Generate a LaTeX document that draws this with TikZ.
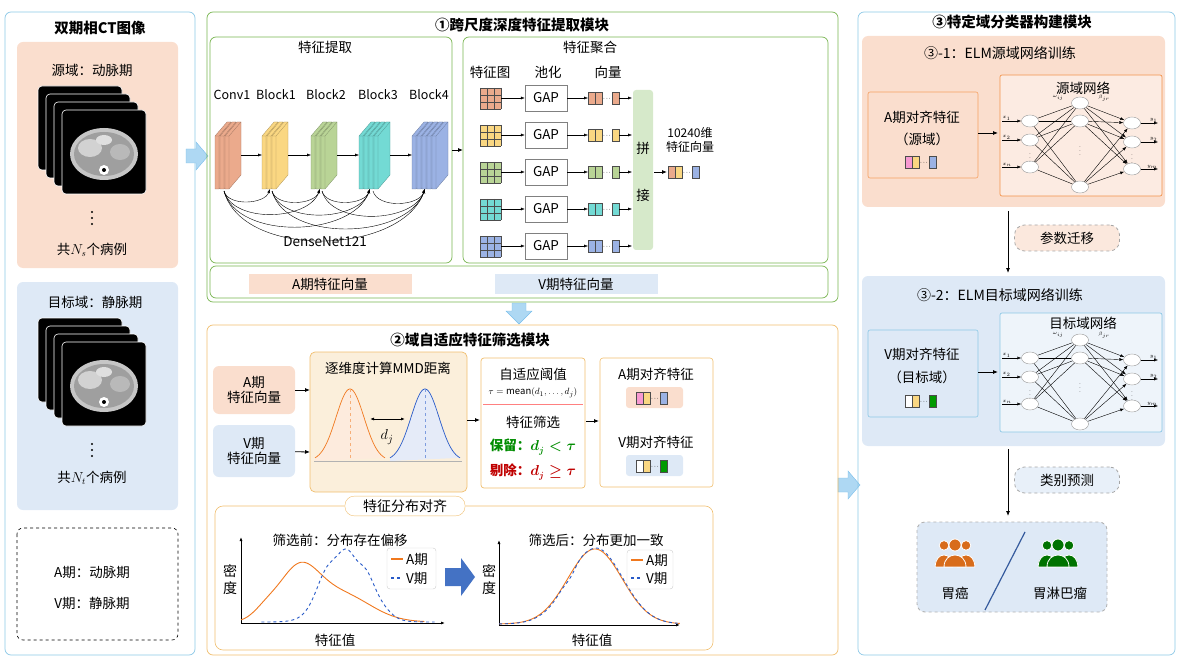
\documentclass[tikz,border=0pt]{standalone}
\usepackage{fontspec}
\setmainfont{Noto Sans CJK SC}
\usetikzlibrary{arrows.meta,calc}
\definecolor{pinkbg}{RGB}{250,222,206}
\definecolor{bluebg}{RGB}{222,233,246}
\definecolor{greenln}{RGB}{120,180,80}
\definecolor{orangeln}{RGB}{240,190,110}
\definecolor{blueln}{RGB}{140,200,230}
\definecolor{cA}{RGB}{235,170,140}
\definecolor{cB}{RGB}{250,215,130}
\definecolor{cC}{RGB}{185,212,150}
\definecolor{cD}{RGB}{115,218,212}
\definecolor{cE}{RGB}{155,178,228}
\definecolor{plotA}{RGB}{240,120,30}
\definecolor{plotV}{RGB}{40,90,200}
\definecolor{bigblue}{RGB}{68,114,196}
\definecolor{chev}{RGB}{120,190,235}
\tikzset{
  panel/.style={draw=#1, rounded corners=6pt, line width=0.7pt},
  ttl/.style={font=\fontsize{14.5}{16}\selectfont\bfseries},
  arr/.style={-{Latex[length=5pt,width=4pt]}, line width=0.8pt},
  thinarr/.style={-{Latex[length=4pt,width=3pt]}, line width=0.4pt},
  gapbox/.style={draw=gray, minimum width=42pt, minimum height=26pt, inner sep=0pt},
  pill/.style={draw=gray!70, dashed, rounded corners=10pt, minimum width=105pt, minimum height=26pt, line width=0.8pt},
  neuron/.style={draw=gray!80, fill=white, ellipse, minimum width=17pt, minimum height=12pt, inner sep=0pt},
  dots/.style={font=\scriptsize, inner sep=0pt}
}
\usetikzlibrary{shapes.geometric}
% slab stack of a dense block
\newcommand\slabs[3]{%
  \foreach \i in {1,...,#2}{%
    \pgfmathsetmacro\sx{#1+(\i-1)*5}
    \filldraw[fill=#3, draw=#3!70!black, line width=0.3pt]
      (\sx,136) -- (\sx+12,122) -- (\sx+16,122) -- (\sx+16,175) -- (\sx+4,189) -- (\sx,189) -- cycle;
    \draw[#3!70!black, line width=0.3pt] (\sx+4,136) -- (\sx+16,122) (\sx+4,136) -- (\sx+4,189) (\sx,136) -- (\sx+4,136);
  }}
% 3x3 feature map
\newcommand\fmap[3]{%
  \fill[#3] (#1,#2) rectangle ++(21,21);
  \foreach \k in {0,7,14,21}{\draw[black!70, line width=0.5pt] (#1+\k,#2) -- ++(0,21) (#1,#2+\k) -- ++(21,0);}}
% short vector: x, y, first colour, last colour, middle colour
\newcommand\vect[5]{%
  \filldraw[fill=#3, draw=black!70, line width=0.4pt] (#1,#2-6) rectangle ++(7,12);
  \filldraw[fill=#5, draw=black!70, line width=0.4pt] (#1+7,#2-6) rectangle ++(7,12);
  \node[dots] at (#1+19,#2+1) {$\cdot\!\cdot\!\cdot$};
  \filldraw[fill=#4, draw=black!70, line width=0.4pt] (#1+24,#2-6) rectangle ++(7,12);}
% vertical ellipsis drawn as dots
\newcommand\vdotz[2]{\foreach \d in {-6,0,6}{\fill (#1,#2+\d) circle (1.1);}}
% CT slice stack
\newcommand\ctstack[2]{%
  \foreach \i in {0,1,2,3}{%
    \begin{scope}[shift={(#1+\i*8,#2+\i*8)}]
      \fill[black, rounded corners=4pt] (0,0) rectangle (84,84);
      \draw[white, line width=0.6pt, rounded corners=4pt] (0,0) rectangle (84,84);
      \fill[gray!45] (42,44) ellipse (34 and 26);
      \fill[gray!75] (42,44) ellipse (30 and 22);
      \fill[gray!35] (28,38) ellipse (12 and 9);
      \fill[gray!55] (58,42) ellipse (10 and 8);
      \fill[gray!25] (42,30) ellipse (8 and 5);
      \fill[white] (42,60) circle (5);
      \fill[black] (42,60) circle (2);
    \end{scope}}}
% group of people
\newcommand\people[3]{%
  \foreach \dx/\s in {-11/0.8,11/0.8,0/1}{%
    \fill[#3, draw=white, line width=0.8pt] (#1+\dx-11*\s,#2+22) .. controls (#1+\dx-11*\s,#2+6) and (#1+\dx+11*\s,#2+6) .. (#1+\dx+11*\s,#2+22) -- cycle;
    \fill[#3, draw=white, line width=0.8pt] (#1+\dx,#2+2-2*\s) circle (6*\s);}}
% ELM network
\newcommand\elm[2]{%
  \begin{scope}[yshift=#2]
    \foreach \n/\yy in {1/121,2/140,3/167}{\node[neuron] (#1in\n) at (1030,\yy) {};
      \node[neuron] (#1out\n) at (1132,\yy+2) {};}
    \foreach \n/\yy in {1/103,2/121,3/187}{\node[neuron] (#1hid\n) at (1080,\yy) {};}
    \foreach \a in {1,2,3}{\foreach \b in {1,2,3}{%
      \draw[line width=0.4pt] (#1in\a) -- (#1hid\b);
      \draw[thinarr] (#1hid\b) -- (#1out\a);}}
    \foreach \n/\lab in {1/x_1,2/x_2,3/x_n}{%
      \coordinate (#1xs\n) at ($(#1in\n)+(-28,0)$);
      \draw[thinarr] (#1xs\n) -- (#1in\n);
      \node[font=\tiny, anchor=south west, inner sep=0.5pt] at (#1xs\n) {$\lab$};}
    \foreach \n/\lab in {1/y_1,2/y_2,3/y_m}{%
      \coordinate (#1ys\n) at ($(#1out\n)+(26,0)$);
      \draw[thinarr] (#1out\n) -- (#1ys\n);
      \node[font=\tiny, anchor=south east, inner sep=0.5pt] at (#1ys\n) {$\lab$};}
    \node[font=\tiny] at (1030,155) {$\vdots$};
    \node[font=\tiny] at (1132,156) {$\vdots$};
    \node[font=\tiny] at (1080,148) {$\vdots$};
    \node[font=\tiny] at (1058,98) {$\omega_{ij}$};
    \node[font=\tiny] at (1104,98) {$\beta_{jr}$};
  \end{scope}}
\begin{document}
\begin{tikzpicture}[x=1pt, y=-1pt, font=\fontsize{13.5}{15}\selectfont]
\useasboundingbox (0,0) rectangle (1185,668);

% ---------- left column
\draw[panel=blueln] (5,12) rectangle (195,655);
\node[ttl] (ctttl) at (100,28) {双期相CT图像};
\fill[pinkbg, rounded corners=6pt] (17,42) rectangle (178,268);
\node (srcdom) at (92,70) {源域：动脉期};
\ctstack{38}{86}
\vdotz{92}{218}
\node (srcnum) at (92,250) {共$N_s$个病例};
\fill[bluebg, rounded corners=6pt] (17,282) rectangle (178,510);
\node (tgtdom) at (95,302) {目标域：静脉期};
\ctstack{38}{318}
\vdotz{92}{450}
\node (tgtnum) at (92,478) {共$N_t$个病例};
\draw[dashed, rounded corners=6pt, line width=0.6pt] (17,528) rectangle (178,640);
\node (legA) at (92,572) {A期：动脉期};
\node (legV) at (92,603) {V期：静脉期};

% chevron arrows
\filldraw[fill=chev!60, draw=chev] (186,149) -- (196,149) -- (196,142) -- (208,156) -- (196,170) -- (196,163) -- (186,163) -- cycle;
\filldraw[fill=chev!60, draw=chev] (838,478) -- (848,478) -- (848,471) -- (860,485) -- (848,499) -- (848,492) -- (838,492) -- cycle;
\filldraw[fill=chev!60, draw=chev] (512,303) -- (512,311) -- (506,311) -- (519,324) -- (532,311) -- (526,311) -- (526,303) -- cycle;

% ---------- module 1
\draw[panel=greenln] (207,12) rectangle (838,302);
\node[ttl] (m1ttl) at (522,25) {①跨尺度深度特征提取模块};
\draw[panel=greenln] (210,37) rectangle (452,263);
\node (fext) at (325,47) {特征提取};
\foreach \nm/\xx in {Conv1/232,Block1/276,Block2/326,Block3/378,Block4/429}{\node[inner sep=1pt, font=\fontsize{12.5}{14}\selectfont] (lb\nm) at (\xx,95) {\nm};}
\slabs{215}{3}{cA}
\slabs{262}{3}{cB}
\slabs{311}{3}{cC}
\slabs{359}{4}{cD}
\slabs{412}{5}{cE}
\foreach \a/\b in {241/262,288/311,337/359,390/412}{\coordinate (s\a) at (\a,155); \coordinate (t\b) at (\b,155); \draw[thinarr] (s\a) -- (t\b);}
\foreach \a/\b/\l in {224/270/0.9,224/320/0.9,224/370/0.9,224/425/0.9,272/320/0.9,272/370/0.9,272/425/0.9,322/370/0.9,322/425/0.9,373/425/0.9}{%
  \coordinate (ka\a\b) at (\a,191); \coordinate (kb\a\b) at (\b,189);
  \draw[thinarr] (ka\a\b) to[out=-75, in=-110, looseness=\l] (kb\a\b);}
\node (dnet) at (325,242) {DenseNet121};
\coordinate (extout) at (452,150); \coordinate (aggin) at (463,150);
\draw[arr] (extout) -- (aggin);

\draw[panel=greenln] (463,37) rectangle (828,263);
\node (fagg) at (590,47) {特征聚合};
\node (hmap) at (490,72) {特征图};
\node (hpool) at (548,72) {池化};
\node (hvec) at (608,72) {向量};
\fill[greenln!30, rounded corners=3pt] (633,90) rectangle (653,250);
\node (cat1) at (643,148) {拼};
\node (cat2) at (643,195) {接};
\foreach \r/\yy/\c in {1/98/cA,2/135/cB,3/172/cC,4/209/cD,5/246/cE}{%
  \fmap{480}{\yy-10}{\c}
  \node[gapbox] (gap\r) at (546,\yy) {GAP};
  \coordinate (mp\r) at (501,\yy);
  \draw[thinarr] (mp\r) -- (gap\r);
  \coordinate (vc\r) at (588,\yy);
  \draw[thinarr] (gap\r) -- (vc\r);
  \vect{588}{\yy}{\c}{\c}{\c}
  \coordinate (ve\r) at (619,\yy); \coordinate (vt\r) at (632,\yy);
  \draw[thinarr] (ve\r) -- (vt\r);}
\node[align=center, font=\fontsize{12}{14}\selectfont] (dim) at (690,140) {10240维\\特征向量};
\coordinate (catout) at (654,172); \coordinate (fvin) at (667,172);
\draw[arr] (catout) -- (fvin);
\vect{668}{172}{cA}{cE}{cB}
\draw[panel=greenln] (210,266) rectangle (828,298);
\node[fill=pinkbg, minimum width=163pt, minimum height=20pt] (avec) at (330,284) {A期特征向量};
\node[fill=bluebg, minimum width=163pt, minimum height=20pt] (vvec) at (576,284) {V期特征向量};

% ---------- module 2
\draw[panel=orangeln] (207,325) rectangle (838,655);
\node[ttl] (m2ttl) at (470,340) {②域自适应特征筛选模块};
\node[fill=pinkbg, rounded corners=6pt, minimum width=82pt, minimum height=48pt, align=center] (ain) at (254,390) {A期\\特征向量};
\node[fill=bluebg, rounded corners=6pt, minimum width=82pt, minimum height=52pt, align=center] (vin) at (254,451) {V期\\特征向量};
\filldraw[fill=orangeln!25, draw=orangeln, rounded corners=5pt, line width=0.7pt] (310,352) rectangle (467,492);
\node (mmdttl) at (388,368) {逐维度计算MMD距离};
\coordinate (mmdA) at (310,390); \coordinate (mmdV) at (310,452);
\draw[arr] (ain) -- (mmdA);
\draw[arr] (vin) -- (mmdV);
\fill[plotA!15] (315,461) -- plot[domain=315:385, samples=50] (\x, {461-72*exp(-((\x-350)^2)/(2*14^2))}) -- cycle;
\fill[plotV!12] (390,461) -- plot[domain=390:460, samples=50] (\x, {461-72*exp(-((\x-425)^2)/(2*14^2))}) -- cycle;
\draw[plotA, line width=0.7pt] plot[domain=315:385, samples=50] (\x, {461-72*exp(-((\x-350)^2)/(2*14^2))});
\draw[plotV, line width=0.7pt] plot[domain=390:460, samples=50] (\x, {461-72*exp(-((\x-425)^2)/(2*14^2))});
\draw[plotA!60, dashed, line width=0.4pt] (350,389) -- (350,461);
\draw[plotV!60, dashed, line width=0.4pt] (425,389) -- (425,461);
\draw[gray!60] (314,461) -- (462,461);
\coordinate (djl) at (370,419); \coordinate (djr) at (405,419);
\draw[{Latex[length=4pt]}-{Latex[length=4pt]}, line width=0.8pt] (djl) -- (djr);
\node[font=\fontsize{15}{16}\selectfont] (dj) at (387,437) {$d_j$};
\draw[orangeln, line width=0.7pt, rounded corners=3pt] (481,358) rectangle (585,488);
\node (thr) at (533,374) {自适应阈值};
\node[font=\fontsize{9.5}{11}\selectfont] (tau) at (533,393) {$\tau=\mathrm{mean}(d_1,\ldots,d_j)$};
\draw[red!50, line width=0.8pt] (483,404) -- (583,404);
\node (fsel) at (533,422) {特征筛选};
\node[text=green!55!black, font=\fontsize{13.5}{15}\selectfont\bfseries\boldmath] (keep) at (533,447) {保留：$d_j<\tau$};
\node[text=red!75!black, font=\fontsize{13.5}{15}\selectfont\bfseries\boldmath] (drop) at (533,472) {剔除：$d_j\geq\tau$};
\coordinate (mmdout) at (467,420); \coordinate (thrin) at (480,420);
\draw[arr] (mmdout) -- (thrin);
\coordinate (throut) at (586,421); \coordinate (alin) at (599,421);
\draw[arr] (throut) -- (alin);
\draw[orangeln, line width=0.6pt, rounded corners=3pt] (600,358) rectangle (713,487);
\node (aal) at (656,374) {A期对齐特征};
\fill[pinkbg, rounded corners=3pt] (626,387) rectangle (683,408);
\vect{636}{398}{magenta!40}{cE}{cB}
\node (val) at (656,442) {V期对齐特征};
\fill[bluebg, rounded corners=3pt] (626,455) rectangle (683,476);
\vect{636}{466}{white}{green!60!black}{cB}

\draw[orangeln, line width=0.6pt, rounded corners=8pt] (215,506) rectangle (713,650);
\node[draw=orangeln, fill=white, rounded corners=9pt, minimum width=120pt, minimum height=18pt, font=\fontsize{14}{15}\selectfont] (align) at (405,506) {特征分布对齐};
% before
\coordinate (o1) at (241,623); \coordinate (x1) at (445,623); \coordinate (y1) at (241,537);
\draw[thinarr, line width=0.8pt] (o1) -- (x1);
\draw[thinarr, line width=0.8pt] (o1) -- (y1);
\node (bef) at (340,540) {筛选前：分布存在偏移};
\node[align=center, font=\fontsize{14}{17}\selectfont] (dens1) at (230,580) {密\\度};
\node (fv1) at (335,640) {特征值};
\draw[plotA, line width=0.9pt] plot[domain=0:0.9, samples=120] ({241+204*\x}, {622-48*exp(-((\x-0.28)^2)/(2*0.098^2))-28*exp(-((\x-0.485)^2)/(2*0.147^2))-9*exp(-((\x-0.118)^2)/(2*0.059^2))});
\draw[plotV, dashed, line width=0.9pt] plot[domain=0.1:0.95, samples=160] ({241+204*\x}, {622-68*exp(-((\x-0.52)^2)/(2*0.1^2))-14*exp(-((\x-0.41)^2)/(2*0.05^2))-8*exp(-((\x-0.64)^2)/(2*0.06^2))-3*sin(\x*3000)*exp(-((\x-0.55)^2)/(2*0.08^2))});
\draw[gray!40, rounded corners=3pt] (387,548) rectangle (436,589);
\draw[plotA, line width=1.2pt] (391,559) -- (403,559); \node[anchor=west, inner sep=1pt] (lA1) at (405,559) {A期};
\draw[plotV, dashed, line width=1.2pt] (391,578) -- (403,578); \node[anchor=west, inner sep=1pt] (lV1) at (405,578) {V期};
\fill[bigblue] (445,568) -- (461,568) -- (461,558) -- (475,577) -- (461,596) -- (461,586) -- (445,586) -- cycle;
% after
\coordinate (o2) at (499,625); \coordinate (x2) at (680,625); \coordinate (y2) at (499,540);
\draw[thinarr, line width=0.8pt] (o2) -- (x2);
\draw[thinarr, line width=0.8pt] (o2) -- (y2);
\node (aft) at (596,540) {筛选后：分布更加一致};
\node[align=center, font=\fontsize{14}{17}\selectfont] (dens2) at (489,580) {密\\度};
\node (fv2) at (592,640) {特征值};
\draw[plotA, line width=0.9pt] plot[domain=0:1, samples=100] ({499+181*\x}, {624-75*exp(-((\x-0.53)^2)/(2*0.15^2))});
\draw[plotV, dashed, line width=0.9pt] plot[domain=0:1, samples=140] ({499+181*\x}, {624-76*exp(-((\x-0.535)^2)/(2*0.148^2))-2*sin(\x*2500)*exp(-((\x-0.4)^2)/(2*0.05^2))});
\draw[gray!40, rounded corners=3pt] (627,550) rectangle (673,589);
\draw[plotA, line width=1.2pt] (631,560) -- (643,560); \node[anchor=west, inner sep=1pt] (lA2) at (645,560) {A期};
\draw[plotV, dashed, line width=1.2pt] (631,578) -- (643,578); \node[anchor=west, inner sep=1pt] (lV2) at (645,578) {V期};

% ---------- module 3
\draw[panel=blueln] (858,12) rectangle (1175,655);
\node[ttl] (m3ttl) at (1012,22) {③特定域分类器构建模块};
\fill[pinkbg, rounded corners=6pt] (862,36) rectangle (1165,207);
\node[font=\fontsize{14}{16}\selectfont] (s31) at (1000,53) {③-1：ELM源域网络训练};
\draw[plotA!70, line width=0.6pt, rounded corners=2pt] (868,92) rectangle (978,178);
\node (asrc1) at (922,117) {A期对齐特征};
\node (asrc2) at (922,139) {（源域）};
\vect{905}{162}{magenta!40}{cE}{cB}
\filldraw[fill=pinkbg!60, draw=plotA!80, line width=0.7pt, rounded corners=2pt] (1000,75) rectangle (1162,196);
\node (srcnet) at (1083,88) {源域网络};
\elm{s}{0}
\coordinate (srcout) at (978,133); \coordinate (srcnetin) at (998,133);
\draw[arr] (srcout) -- (srcnetin);

\node[pill, fill=pinkbg!70] (transfer) at (1067,238) {参数迁移};
\coordinate (p1top) at (1008,211); \coordinate (p1bot) at (1008,273);
\draw[arr] (p1top) -- (p1bot);

\fill[bluebg, rounded corners=6pt] (862,276) rectangle (1165,446);
\node[font=\fontsize{14}{16}\selectfont] (s32) at (1000,295) {③-2：ELM目标域网络训练};
\draw[blueln, line width=0.6pt, rounded corners=2pt] (868,330) rectangle (978,417);
\node (vtgt1) at (922,354) {V期对齐特征};
\node (vtgt2) at (922,377) {（目标域）};
\vect{905}{401}{white}{green!60!black}{cB}
\filldraw[fill=bluebg!50, draw=blueln, line width=0.7pt, rounded corners=2pt] (1000,313) rectangle (1162,432);
\node (tgtnet) at (1083,323) {目标域网络};
\elm{t}{-237}
\coordinate (tgtout) at (978,372); \coordinate (tgtnetin) at (998,372);
\draw[arr] (tgtout) -- (tgtnetin);

\node[pill, fill=bluebg!70] (predict) at (1067,480) {类别预测};
\coordinate (p2top) at (1008,449); \coordinate (p2bot) at (1008,516);
\draw[arr] (p2top) -- (p2bot);

\filldraw[fill=bluebg, draw=gray!60, dashed, line width=0.9pt, rounded corners=8pt] (917,522) rectangle (1107,612);
\people{955}{545}{plotA!90!black}
\people{1058}{545}{green!45!black}
\node (gc) at (955,593) {胃癌};
\node (gl) at (1060,593) {胃淋巴瘤};
\coordinate (sl1) at (985,610); \coordinate (sl2) at (1025,532);
\draw[bigblue!80!black, line width=1.2pt] (sl1) -- (sl2);
\end{tikzpicture}
\end{document}
